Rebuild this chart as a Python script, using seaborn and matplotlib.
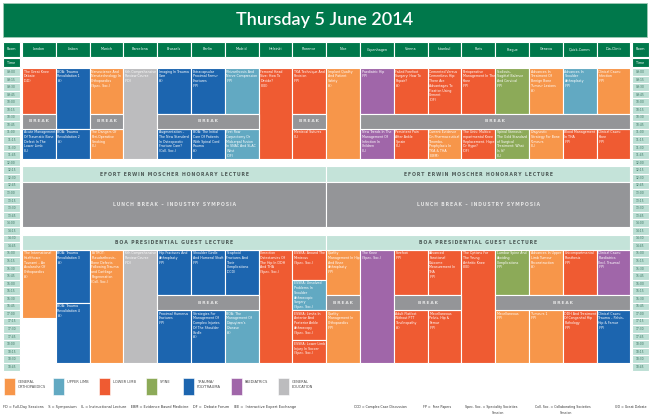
import textwrap
import matplotlib
matplotlib.use("Agg")
import matplotlib.pyplot as plt
import seaborn as sns

# ROOMS AND TIME ROWS
rooms = ["London", "Lisbon", "Munich", "Barcelona", "Brussels", "Berlin", "Madrid",
         "Helsinki", "Florence", "Nice", "Copenhagen", "Vienna", "Istanbul", "Paris",
         "Prague", "Geneva", "Quick-Comm", "Dia-Clinic"]
time_labels = [f"{h:02d}:{m:02d}" for h in range(9, 19) for m in (0, 15, 30, 45)]

# TRACKS (legend)
track_keys = ["GO", "UL", "LL", "SP", "TR", "PA", "GE"]
track_names = ["GENERAL\nORTHOPAEDICS", "UPPER LIMB", "LOWER LIMB", "SPINE",
               "TRAUMA/\nPOLYTRAUMA", "PAEDIATRICS", "GENERAL\nEDUCATION"]
track_colors = ["#F7964A", "#62A9C2", "#EF5B32", "#8CAA58", "#1C65AF", "#A066A9", "#BCBCBE"]

# SESSIONS
session_rooms = [0, 0, 1, 1, 2, 2, 3, 4, 4, 5, 5, 6, 6, 7, 8, 8, 9, 10, 10, 11, 11,
                 12, 12, 13, 13, 14, 14, 15, 15, 16, 16, 17, 17,
                 0, 1, 1, 2, 3, 4, 4, 5, 5, 6, 6, 7, 8, 8, 8, 8, 9, 9, 10, 11, 11,
                 12, 12, 13, 14, 14, 15, 15, 16, 16, 17, 17]
session_starts = ["09:00", "11:00", "09:00", "11:00", "09:00", "11:00", "09:00", "09:00", "11:00",
                  "09:00", "11:00", "09:00", "11:00", "09:00", "09:00", "11:00", "09:00", "09:00",
                  "11:00", "09:00", "11:00", "09:00", "11:00", "09:00", "11:00", "09:00", "11:00",
                  "09:00", "11:00", "09:00", "11:00", "09:00", "11:00",
                  "15:00", "15:00", "16:45", "15:00", "15:00", "15:00", "17:00", "15:00", "17:00",
                  "15:00", "17:00", "15:00", "15:00", "16:00", "17:00", "18:00", "15:00", "17:00",
                  "15:00", "15:00", "17:00", "15:00", "17:00", "15:00", "15:00", "17:00", "15:00",
                  "17:00", "15:00", "17:00", "15:00", "17:00"]
session_ends = ["10:30", "12:00", "11:00", "12:00", "10:30", "12:00", "12:00", "10:30", "12:00",
                "10:30", "12:00", "10:30", "12:00", "12:00", "10:30", "12:00", "12:00", "10:30",
                "12:00", "10:30", "12:00", "10:30", "12:00", "10:30", "12:00", "10:30", "12:00",
                "10:30", "12:00", "10:30", "12:00", "10:30", "12:00",
                "17:15", "16:45", "18:45", "18:45", "18:45", "16:30", "18:45", "16:30", "18:45",
                "16:30", "18:45", "18:45", "16:00", "17:00", "18:00", "18:45", "16:30", "18:45",
                "18:45", "16:30", "18:45", "16:30", "18:45", "18:45", "16:30", "18:45", "16:30",
                "18:45", "16:30", "18:45", "16:30", "18:45"]
session_tracks = ["LL", "TR", "TR", "TR", "GO", "GO", "GE", "TR", "TR", "TR", "TR", "UL", "UL",
                  "LL", "LL", "LL", "GO", "PA", "PA", "LL", "LL", "LL", "GO", "LL", "LL", "SP",
                  "SP", "GO", "GO", "UL", "LL", "GO", "LL",
                  "GO", "TR", "TR", "GO", "GE", "TR", "TR", "TR", "TR", "TR", "UL", "LL", "LL",
                  "UL", "LL", "LL", "GO", "GO", "PA", "LL", "LL", "LL", "LL", "LL", "SP", "GO",
                  "GO", "GO", "LL", "LL", "PA", "TR"]
session_titles = [
    "The Great Knee Debate",
    "Acute Management Of Traumatic Bone Defect In The Lower Limb",
    "BOA: Trauma Revalidation 1",
    "BOA: Trauma Revalidation 2",
    "Nanoscience And Nanotechnology In Orthopaedics",
    "The Dangers Of Peri-Operative Smoking",
    "6th Comprehensive Review Course",
    "Imaging In Trauma Care",
    "Augmentation \u2013 The New Standard In Osteoporotic Fracture Care?",
    "Extracapsular Proximal Femur Fractures",
    "BOA: The Initial Care Of Patients With Spinal Cord Trauma",
    "Rhizarthrosis And Nerve Compression",
    "First Row Carpectomy Or Midcarpal Fusion In SNAC And SLAC Wrist",
    "Femoral Head Size: How To Decide?",
    "TKA Technique And Revision",
    "Meniscal Sutures",
    "Implant Quality And Patient Safety",
    "Paediatric Hip",
    "New Trends In The Management Of Infection In Children",
    "Failed Forefoot Surgery: How To Repair?",
    "Persistent Pain After Ankle Sprain",
    "Cemented Versus Cementless Hip: There Are Advantages To Fixation Using Cement",
    "Current Evidence On Pharmaceutical Thrombo-Prophylaxis In TKA & THA",
    "Perioperative Management In The Knee",
    "The Unis: Multicompartmental Knee Replacement. Hope Or Hype?",
    "Scoliosis, Sagittal Balance And Cervical",
    "Spinal Stenosis: The Gold Standard of Surgical Treatment: What Is It?",
    "Advances In Treatment Of Benign Bone Tumour Lesions",
    "Diagnostic Strategy For Bone Tumours",
    "Advances In Shoulder Arthroplasty",
    "Blood Management In THA",
    "Clinical Cases: Infection",
    "Clinical Cases: Knee",
    "The International Healthcare Tsunami \u2013 An Avalanche Of Orthopaedics",
    "BOA: Trauma Revalidation 3",
    "BOA: Trauma Revalidation 4",
    "ESTROT: Pseudarthrosis, Bone Defects Following Trauma and Cartilage Regeneration",
    "6th Comprehensive Review Course",
    "Hip Fractures And Arthroplasty",
    "Proximal Humerus Fractures",
    "Shoulder Girdle And Humeral Shaft",
    "Strategies For Management Of Complex Injuries Of The Shoulder Girdle",
    "Scaphoid Fractures And Their Complications",
    "BOA: The Management Of Dupuytren's Disease",
    "Correction Osteotomies Of The Hip In DDH And THA",
    "ESSKA: Around The Meniscus",
    "ESSKA: Unsolved Problems In Shoulder Arthroscopic Surgery",
    "ESSKA: Limits In Anterior And Posterior Ankle Arthroscopy",
    "ESSKA: Lower Limb Injury In Soccer",
    "Quality Management In Hip And Knee Arthroplasty",
    "Quality Management In Orthopaedics",
    "The Knee",
    "Forefoot",
    "Adult Flatfoot Without PTT Tendinopathy",
    "Advanced Functional Outcome Measurement In THA",
    "Miscellaneous Pelvis, Hip & Femur",
    "The Options For The Young Arthritic Knee",
    "Lumbar Spine And Avoiding Complications",
    "Miscellaneous",
    "Advances In Upper Limb Tumour Reconstruction",
    "Tumours 1",
    "Unicompartmental Prosthesis",
    "DDH And Treatment Of Congenital Hip Pathology",
    "Clinical Cases: Paediatrics (Incl. Trauma)",
    "Clinical Cases: Trauma \u2013 Pelvis, Hip & Femur",
]
session_codes = ["GD", "IL", "S", "S", "Spec. Soc.", "IL", "FD", "S", "Coll. Soc.", "FP", "S",
                 "FP", "DF", "IEE", "FP", "IL", "S", "FP", "IL", "S", "IL", "DF", "EBM", "FP",
                 "DF", "FP", "IL", "S", "IL", "FP", "FP", "FP", "FP",
                 "S", "S", "S", "Coll. Soc.", "FD", "FP", "FP", "FP", "S", "CCD", "S",
                 "Spec. Soc.", "Spec. Soc.", "Spec. Soc.", "Spec. Soc.", "Spec. Soc.", "FP", "FP",
                 "Spec. Soc.", "FP", "S", "FP", "FP", "IEE", "FP", "FP", "S", "FP", "FP", "FP",
                 "FP", "FP"]

# BREAKS (first room, last room, start, end)
break_first = [0, 2, 4, 8, 10, 4, 9, 11, 14]
break_last = [0, 2, 6, 8, 17, 6, 9, 12, 17]
break_starts = ["10:30"] * 5 + ["16:30"] * 4
break_ends = ["11:00"] * 5 + ["17:00"] * 4

# PLENARY BLOCKS (each split into two halves of the hall)
plenary_titles = ["EFORT ERWIN MOSCHER HONORARY LECTURE",
                  "LUNCH BREAK \u2013 INDUSTRY SYMPOSIA",
                  "BOA PRESIDENTIAL GUEST LECTURE"]
plenary_starts = ["12:15", "12:45", "14:30"]
plenary_ends = ["12:45", "14:15", "15:00"]
plenary_kinds = ["lecture", "lunch", "lecture"]
halves = [(0, 8), (9, 17)]

abbrev_left = ("FD = Full-Day Sessions    S = Symposium    IL = Instructional Lecture    "
               "EBM = Evidence Based Medicine    DF =  Debate Forum    IEE =  Interactive Expert Exchange")

GREEN = "#00784B"
MINT = "#BCDFD4"
BAND = "#C4E3D9"
GREY = "#949598"
INK = "#333333"


def hours(t):
    h, m = t.split(":")
    return int(h) + int(m) / 60


# pixel layout -> axis units (room i is centred on i, 09:00 row starts at y=68.2px)
def ux(px):
    return (px - 22) / 33.8 - 0.5


def hy(py):
    return 9 + (py - 68.2) / 30.24


def spaced(s):
    return "\u2009".join(s)


sns.set_theme(style="white")
plt.rcParams['font.family'] = ['DejaVu Sans']

fig = plt.figure(figsize=(6.5, 4.18), dpi=100)
ax = fig.add_axes([0, 0, 1, 1])
ax.set_xlim(ux(0), ux(650))
ax.set_ylim(hy(418), hy(0))
ax.axis('off')

color_of = dict(zip(track_keys, track_colors))
LW = 0.8

# title banner
ax.bar(ux(325), hy(37) - hy(3), width=644 / 33.8, bottom=hy(3), color=GREEN,
       edgecolor="#9FC9B5", linewidth=0.6)
ax.text(ux(325), (hy(3) + hy(37)) / 2 + 0.01, "Thursday 5 June 2014", color="white",
        fontsize=13, fontweight="semibold", ha="center", va="center",
        family=['Lato', 'DejaVu Sans'])

# room headers
for i, r in enumerate(rooms):
    ax.bar(i, hy(57) - hy(42), width=1, bottom=hy(42), color=GREEN, edgecolor="white", linewidth=LW)
    ax.text(i, (hy(42) + hy(57)) / 2, r, color="white", fontsize=2.4, ha="center", va="center")

side_cols = [ux(11.5), ux(640)]
side_w = 17 / 33.8
for sx in side_cols:
    ax.bar(sx, hy(57) - hy(42), width=side_w, bottom=hy(42), color=GREEN, edgecolor="white", linewidth=LW)
    ax.text(sx, (hy(42) + hy(57)) / 2, "Room", color="white", fontsize=2.4, ha="center", va="center")
    ax.bar(sx, hy(67) - hy(58), width=side_w, bottom=hy(58), color=GREEN, edgecolor="white", linewidth=LW)
    ax.text(sx, (hy(58) + hy(67)) / 2, "Time", color="white", fontsize=2.4, ha="center", va="center")
    for t in time_labels:
        ax.bar(sx, 0.25, width=side_w, bottom=hours(t), color=MINT, edgecolor="white", linewidth=LW)
        ax.text(sx, hours(t) + 0.125, t, color="#3C7462", fontsize=2.2, ha="center", va="center")

# sessions
for r, s, e, tr, title, code in zip(session_rooms, session_starts, session_ends,
                                    session_tracks, session_titles, session_codes):
    s, e = hours(s), hours(e)
    ax.bar(r, e - s, width=1, bottom=s, color=color_of[tr], edgecolor="white", linewidth=LW)
    lines = textwrap.wrap(title, 17) + [f"({code})"]
    ax.text(r - 0.45, s + 0.05, "\n".join(lines), color="white", fontsize=2.3,
            ha="left", va="top", linespacing=1.25)

# breaks
for f, l, s, e in zip(break_first, break_last, break_starts, break_ends):
    s, e = hours(s), hours(e)
    ax.bar((f + l) / 2, e - s, width=l - f + 1, bottom=s, color=GREY, edgecolor="white", linewidth=LW)
    ax.text((f + l) / 2, (s + e) / 2, spaced("BREAK"), color="#E4E4E4", fontsize=3.2,
            fontweight="bold", ha="center", va="center")

# plenary blocks
for title, s, e, kind in zip(plenary_titles, plenary_starts, plenary_ends, plenary_kinds):
    s, e = hours(s), hours(e)
    for f, l in halves:
        ax.bar((f + l) / 2, e - s, width=l - f + 1, bottom=s,
               color=BAND if kind == "lecture" else GREY, edgecolor="white", linewidth=LW)
        ax.text((f + l) / 2, (s + e) / 2, spaced(title),
                color="#4E5B58" if kind == "lecture" else "#E2E2E2",
                fontsize=3.3, fontweight="bold", ha="center", va="center")

# legend
legend_px = [4, 53, 99, 146, 183, 231, 278]
for px, name, c in zip(legend_px, track_names, track_colors):
    ax.bar(ux(px + 5.5), hy(395) - hy(378), width=11 / 33.8, bottom=hy(378), color=c,
           edgecolor="white", linewidth=0.4)
    ax.text(ux(px + 14), hy(380), name, color="#4A4A4A", fontsize=2.6, ha="left", va="top",
            linespacing=1.4)

# abbreviations
FS = 2.3
ax.text(ux(3), hy(407), abbrev_left, color=INK, fontsize=2.5, ha="left", va="center")
ax.text(ux(354), hy(407), "CCD = Complex Case Discussion", color=INK, fontsize=FS, va="center")
ax.text(ux(423), hy(407), "FP =  Free Papers", color=INK, fontsize=FS, va="center")
ax.text(ux(465), hy(407), "Spec. Soc. = Speciality Societies", color=INK, fontsize=FS, va="center")
ax.text(ux(492), hy(413), "Session", color=INK, fontsize=FS, va="center")
ax.text(ux(535), hy(407), "Coll. Soc. = Collaborating Societies", color=INK, fontsize=FS, va="center")
ax.text(ux(560), hy(413), "Session", color=INK, fontsize=FS, va="center")
ax.text(ux(647), hy(407), "GD = Great Debate", color=INK, fontsize=FS, ha="right", va="center")

fig.savefig("out.png", dpi=100, facecolor="white")
